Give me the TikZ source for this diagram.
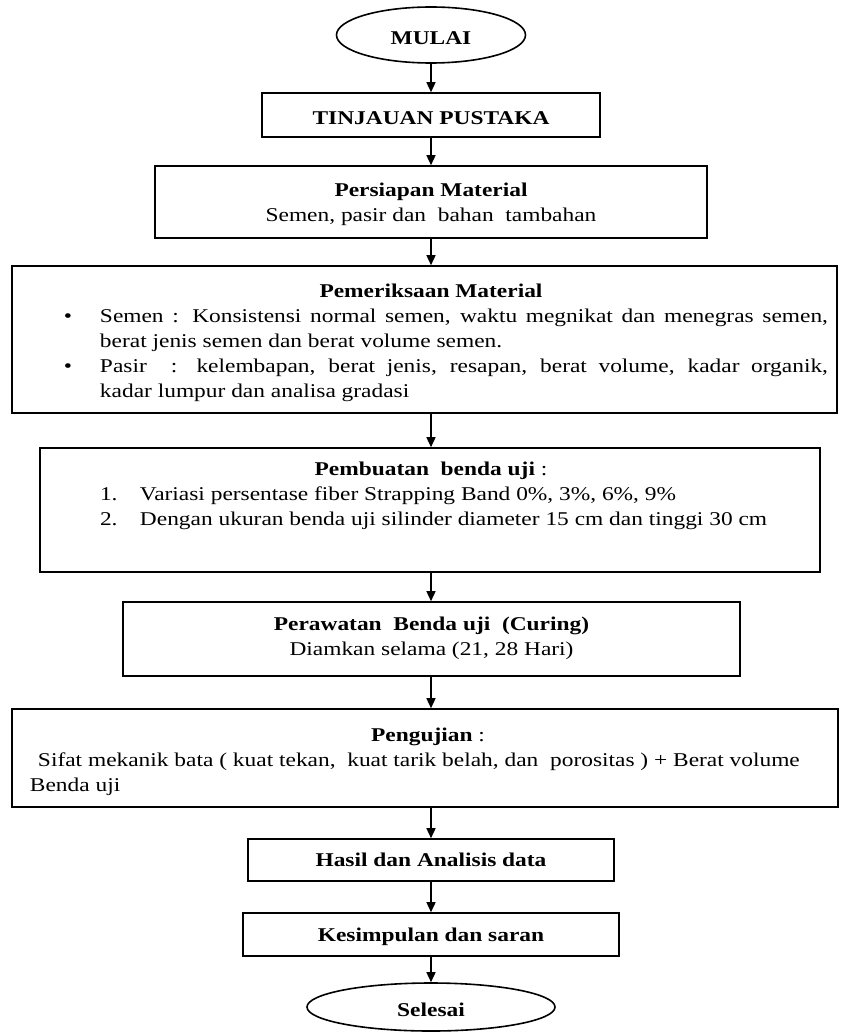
\documentclass[tikz,border=0pt]{standalone}
\usepackage{fontspec}
\setmainfont{Liberation Serif}[FakeStretch=1.2]
\usetikzlibrary{arrows.meta,shapes.geometric}
\newcommand{\bxt}[4]{\parbox[c][#2][t]{#1}{\fontsize{19.5}{25}\selectfont\vspace*{#3}#4}}
\begin{document}
\begin{tikzpicture}[x=1pt,y=-1pt,
  box/.style={draw, line width=1.6pt, inner sep=0pt, font=\fontsize{19.5}{25}\selectfont},
  term/.style={draw, ellipse, line width=1.6pt, inner sep=0pt, font=\fontsize{19.5}{25}\selectfont\bfseries, text height=19pt, text depth=0pt},
  arr/.style={line width=1.5pt, -{Triangle[length=10pt,width=9pt]}}]
\useasboundingbox[fill=white] (0,0) rectangle (841,1032);
\coordinate (mid) at (431,0);

\node[term, minimum width=189pt, minimum height=56pt] (mulai) at (431,35) {MULAI};

\node[box] (tinj) at (431,115) {\bxt{338pt}{44pt}{14.5pt}{\centering\strut\textbf{TINJAUAN PUSTAKA}}};

\node[box] (pers) at (431,202) {\bxt{552pt}{72pt}{12.5pt}{\centering\strut\textbf{Persiapan Material}\\ Semen, pasir dan\ \ bahan\ \ tambahan}};

\node[box] (periksa) at (424.5,339.5) {\bxt{825pt}{147pt}{13.5pt}{%
  {\centering\strut\hspace*{13pt}\textbf{Pemeriksaan Material}\par}
  \begin{list}{\textbullet}{\setlength{\leftmargin}{88pt}\setlength{\rightmargin}{9pt}%
      \setlength{\labelwidth}{30pt}\setlength{\labelsep}{28pt}\setlength{\itemsep}{0pt}%
      \setlength{\topsep}{0pt}\setlength{\parsep}{0pt}\setlength{\partopsep}{0pt}\setlength{\itemindent}{0pt}}
  \item Semen : Konsistensi normal semen, waktu megnikat dan menegras semen,\linebreak berat jenis semen dan berat volume semen.
  \item Pasir\hspace{24pt}: kelembapan, berat jenis, resapan, berat volume, kadar organik,\linebreak kadar lumpur dan analisa gradasi
  \end{list}}};

\node[box] (buat) at (430,510) {\bxt{780pt}{124pt}{9.5pt}{%
  {\centering\strut\hspace*{2pt}\textbf{Pembuatan\ \ benda uji} :\par}
  \hspace*{60pt}\makebox[40pt][l]{1.}Variasi persentase fiber Strapping Band 0\%, 3\%, 6\%, 9\%\par
  \hspace*{60pt}\makebox[40pt][l]{2.}Dengan ukuran benda uji silinder diameter 15 cm dan tinggi 30 cm\par}};

\node[box] (rawat) at (431.5,639) {\bxt{617pt}{74pt}{10.5pt}{\centering\strut\textbf{Perawatan\ \ Benda uji\ \ (Curing)}\\ Diamkan selama (21, 28 Hari)}};

\node[box] (uji) at (425,758) {\bxt{826pt}{98pt}{14.5pt}{%
  {\centering\strut\hspace*{6pt}\textbf{Pengujian} :\par}
  \hspace*{26pt}Sifat mekanik bata ( kuat tekan,\ \ kuat tarik belah, dan\ \ porositas ) + Berat volume\par
  \hspace*{18pt}Benda uji\par}};

\node[box] (hasil) at (431,860) {\bxt{366pt}{42pt}{9.5pt}{\centering\strut\textbf{Hasil dan Analisis data}}};

\node[box] (simpul) at (431,934.5) {\bxt{376pt}{43pt}{10.5pt}{\centering\strut\textbf{Kesimpulan dan saran}}};

\node[term, minimum width=248pt, minimum height=48pt] (selesai) at (431,1007) {Selesai};

\draw[arr] (mulai.south) -- (tinj.north -| mid);
\draw[arr] (tinj.south -| mid) -- (pers.north -| mid);
\draw[arr] (pers.south -| mid) -- (periksa.north -| mid);
\draw[arr] (periksa.south -| mid) -- (buat.north -| mid);
\draw[arr] (buat.south -| mid) -- (rawat.north -| mid);
\draw[arr] (rawat.south -| mid) -- (uji.north -| mid);
\draw[arr] (uji.south -| mid) -- (hasil.north -| mid);
\draw[arr] (hasil.south -| mid) -- (simpul.north -| mid);
\draw[arr] (simpul.south -| mid) -- (selesai.north);
\end{tikzpicture}
\end{document}
